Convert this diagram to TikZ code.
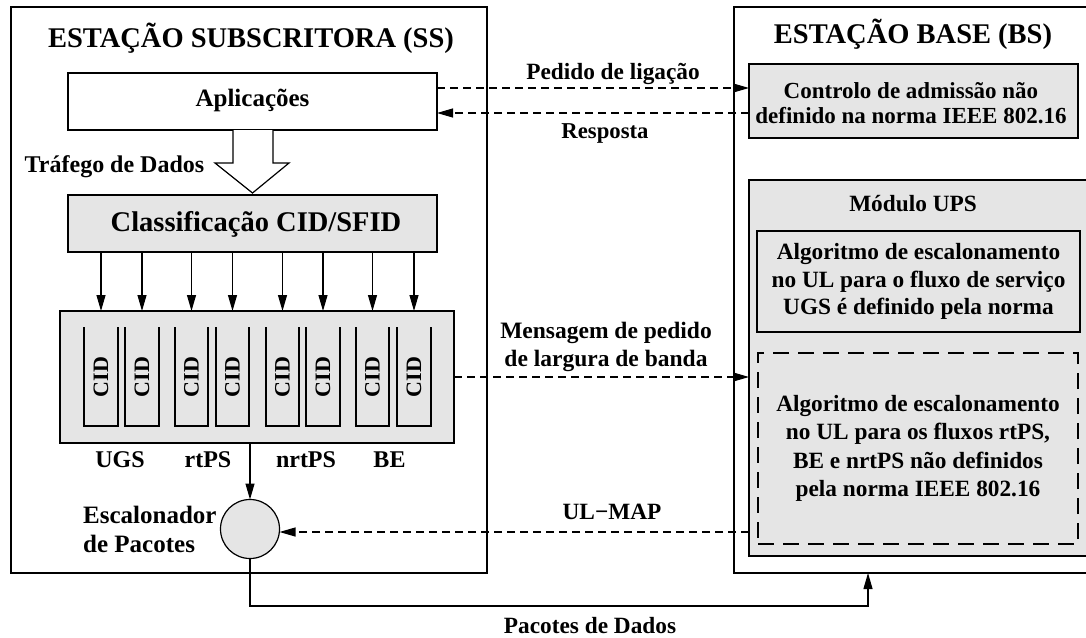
\documentclass[tikz,border=0pt]{standalone}
\usepackage{fontspec}
\setmainfont{Liberation Serif}
\usetikzlibrary{arrows.meta,calc}
\definecolor{boxgray}{RGB}{229,229,229}
\tikzset{
  frame/.style={draw,line width=1.3pt,inner sep=0pt,outer sep=0pt},
  graybox/.style={frame,fill=boxgray},
  txt/.style={font=\bfseries\fontsize{23.3}{27.5}\selectfont,inner sep=0pt,align=center},
  big/.style={font=\bfseries\fontsize{28.5}{32}\selectfont,inner sep=0pt},
  tip/.style={-{Triangle[length=16pt,width=9pt]}},
  conn/.style={line width=1.1pt,tip},
  dconn/.style={conn,dash pattern=on 8pt off 5pt},
  slot/.style={line width=1.2pt},
}
\begin{document}
\begin{tikzpicture}[x=1pt,y=-1pt]
\useasboundingbox (0,0) rectangle (1086,637);
\clip (0,0) rectangle (1086,637);
\fill[white] (0,0) rectangle (1086,637);

% outer stations
\node[frame,minimum width=476pt,minimum height=566pt] (ss) at (249,290) {};
\node[frame,minimum width=366pt,minimum height=566pt] (bs) at (917,290) {};
\node[big,anchor=base] (sstitle) at (251,47) {ESTAÇÃO SUBSCRITORA (SS)};
\node[big,anchor=base] (bstitle) at (913,43) {ESTAÇÃO BASE (BS)};

% SS blocks
\node[frame,fill=white,minimum width=369pt,minimum height=57pt] (apl) at (252.5,101.5) {};
\node[txt,font=\bfseries\fontsize{25}{28}\selectfont,anchor=base] (apltxt) at (252.5,106) {Aplicações};
\node[graybox,minimum width=369pt,minimum height=57pt] (cls) at (252.5,223.5) {};
\node[big,anchor=base] (clstxt) at (256,231) {Classificação CID/SFID};
\node[graybox,minimum width=394pt,minimum height=132pt] (queue) at (257,377) {};

% hollow data arrow
\draw[line width=1.2pt,fill=white,line join=miter]
  ($(apl.south)+(-19.5,0)$) -- ++(0,33) -- ++(-18,0) -- ($(cls.north)+(0,-2)$)
  -- ($(apl.south)+(36.5,33)$) -- ++(-16,0) -- ($(apl.south)+(20.5,0)$);
\node[txt,font=\bfseries\fontsize{24}{28}\selectfont,anchor=base] (traf) at (114.5,172) {Tráfego de Dados};

% queue slots
\foreach \a/\b [count=\i] in {84/118,125/159,175/208,216/249,266/299,306/340,356/389,397/431}{
  \draw[slot] (\a,327) -- (\a,426) -- (\b,426) -- (\b,327);
  \node[font=\bfseries\fontsize{22}{24}\selectfont,inner sep=0pt,rotate=90] (cid\i) at ({(\a+\b)/2},377) {CID};
  \coordinate (q\i) at ({(\a+\b)/2},0);
  \draw[conn] (q\i |- cls.south) -- (q\i |- queue.north);
}
\node[txt,font=\bfseries\fontsize{24}{28}\selectfont,anchor=base] (lugs) at (120,467) {UGS};
\node[txt,font=\bfseries\fontsize{24}{28}\selectfont,anchor=base] (lrt) at (208,467) {rtPS};
\node[txt,font=\bfseries\fontsize{24}{28}\selectfont,anchor=base] (lnrt) at (306,467) {nrtPS};
\node[txt,font=\bfseries\fontsize{24}{28}\selectfont,anchor=base] (lbe) at (389.5,467) {BE};

% scheduler
\node[draw,line width=1.2pt,fill=boxgray,circle,minimum size=59pt,inner sep=0pt,outer sep=0pt] (sched) at (250,529) {};
\node[txt,font=\bfseries\fontsize{25}{29}\selectfont,align=left,anchor=west] (esc) at (83,529) {Escalonador\\de Pacotes};
\draw[conn] (sched.north |- queue.south) -- (sched.north);

% BS blocks
\node[graybox,minimum width=329pt,minimum height=74pt] (ctrl) at (913.5,101) {};
\node[txt,font=\bfseries\fontsize{23}{25}\selectfont] (ctrltxt) at (911,103) {Controlo de admissão não\\definido na norma IEEE 802.16};
\node[graybox,minimum width=351pt,minimum height=376pt] (ups) at (924.5,368) {};
\node[txt,anchor=base] (upstitle) at (913,211) {Módulo UPS};
\node[graybox,minimum width=323pt,minimum height=101pt,txt] (ugsalg) at (918.5,281.5) {Algoritmo de escalonamento\\no UL para o fluxo de serviço\\UGS é definido pela norma};
\node[graybox,minimum width=320pt,minimum height=191pt,dash pattern=on 16pt off 9pt,txt,font=\bfseries\fontsize{23.3}{28.5}\selectfont] (nalg) at (918,448.5) {Algoritmo de escalonamento\\ no UL para os fluxos rtPS,\\BE e nrtPS não definidos\\pela norma IEEE 802.16};

% connectors
\draw[dconn] ([yshift=13.5pt]apl.east) -- ([yshift=13.5pt]apl.east -| ctrl.west);
\node[txt,anchor=base] (lped) at (613,79) {Pedido de ligação};
\draw[dconn] ([yshift=-11.5pt]apl.east -| ctrl.west) -- ([yshift=-11.5pt]apl.east);
\node[txt,font=\bfseries\fontsize{22.7}{27}\selectfont,anchor=base] (lresp) at (605,138) {Resposta};
\draw[dconn] (queue.east) -- (queue.east -| ups.west);
\node[txt,font=\bfseries\fontsize{23.5}{28.5}\selectfont] (lmsg) at (606,347) {Mensagem de pedido\\de largura de banda};
\draw[dconn] ([yshift=-3pt]sched.east -| ups.west) -- ([yshift=-3pt]sched.east);
\node[txt,anchor=base] (lulmap) at (612,519) {UL−MAP};
\coordinate (pk) at (868,606);
\draw[conn] (sched.south) |- (pk) -- (pk |- bs.south);
\node[txt,anchor=base] (lpac) at (590,633) {Pacotes de Dados};
\end{tikzpicture}
\end{document}
